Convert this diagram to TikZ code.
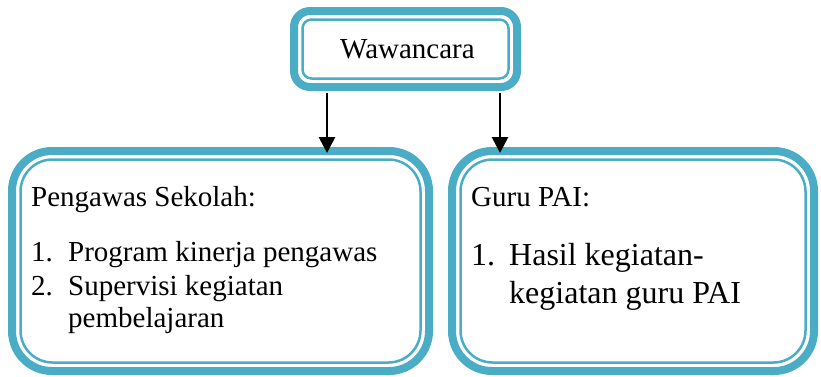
\documentclass[tikz,border=0pt]{standalone}
\usepackage{fontspec}
\setmainfont{Liberation Serif}
\usetikzlibrary{arrows.meta}
\definecolor{bandcol}{HTML}{4BACC6}
\begin{document}
\begin{tikzpicture}[x=1pt,y=-1pt,
  band/.style={draw=bandcol, line width=8pt, rectangle, inner sep=0pt},
  thin/.style={draw=bandcol, line width=2.5pt, rectangle, inner sep=0pt},
  txt/.style={anchor=base west, inner sep=0pt, font=\fontsize{29}{34}\selectfont},
  bigtxt/.style={anchor=base west, inner sep=0pt, font=\fontsize{32}{38}\selectfont},
  arr/.style={line width=2.8pt, -{Triangle[length=16pt,width=16pt]}}]
\useasboundingbox (0,0) rectangle (821,376);
% top box
\node[band, rounded corners=16pt, minimum width=223pt, minimum height=76pt] (top) at (405.5,49) {};
\node[thin, rounded corners=9pt, minimum width=206pt, minimum height=59pt] (topin) at (405.5,49) {};
% left box
\node[band, rounded corners=40pt, minimum width=417pt, minimum height=220pt] (left) at (220.5,261) {};
\node[thin, rounded corners=32pt, minimum width=400pt, minimum height=203pt] (leftin) at (220.5,261) {};
% right box
\node[band, rounded corners=40pt, minimum width=362pt, minimum height=220pt] (right) at (633,261) {};
\node[thin, rounded corners=32pt, minimum width=345pt, minimum height=203pt] (rightin) at (633,261) {};
% texts
\node[txt] (t0) at (340,58) {Wawancara};
\node[txt] (l0) at (31,206.5) {Pengawas Sekolah:};
\node[txt] (l1) at (31,261) {\makebox[37pt][l]{1.}Program kinerja pengawas};
\node[txt] (l2) at (31,295.5) {\makebox[37pt][l]{2.}Supervisi kegiatan};
\node[txt] (l3) at (68,327) {pembelajaran};
\node[txt] (r0) at (471,206.5) {Guru PAI:};
\node[bigtxt] (r1) at (471,265) {\makebox[38pt][l]{1.}Hasil kegiatan-};
\node[bigtxt] (r2) at (509,303.5) {kegiatan guru PAI};
% arrows
\coordinate (a1) at (327,93);
\coordinate (a2) at (500,93);
\draw[arr] (a1) -- ([yshift=-6pt]a1 |- left.north);
\draw[arr] (a2) -- ([yshift=-6pt]a2 |- right.north);
\end{tikzpicture}
\end{document}
